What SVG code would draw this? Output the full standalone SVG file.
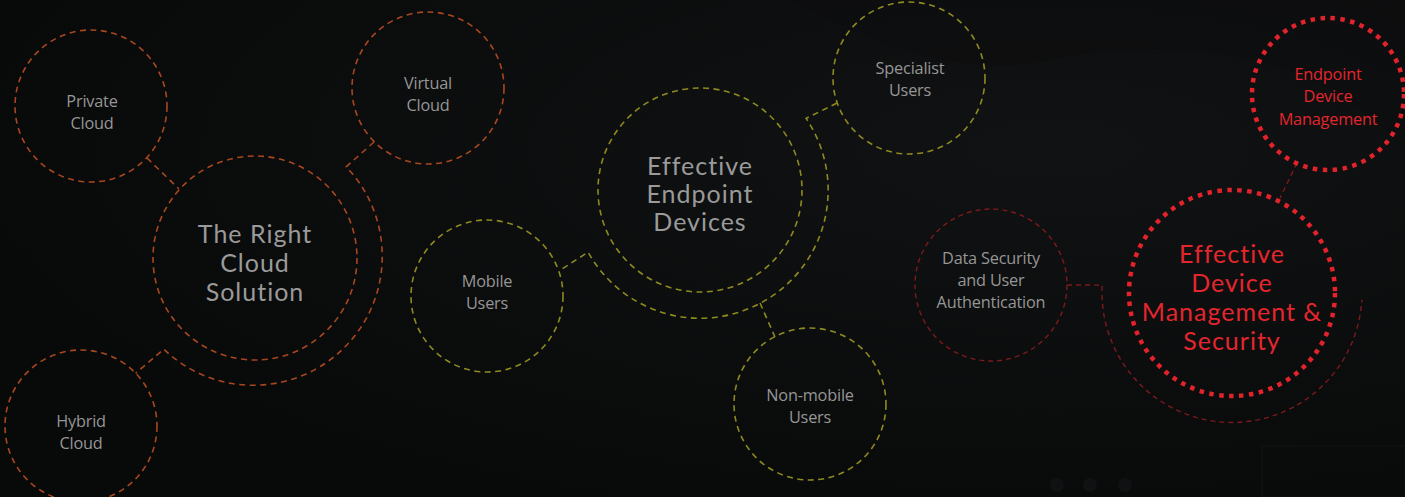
<svg xmlns="http://www.w3.org/2000/svg" width="1405" height="497" viewBox="0 0 1405 497">
<defs>
<radialGradient id="bg" cx="0.75" cy="0.3" r="0.8">
<stop offset="0" stop-color="#111213"/>
<stop offset="1" stop-color="#080909"/>
</radialGradient>
<style>
.ring{fill:none}
.or{stroke:#a8471f;stroke-width:1.6;stroke-dasharray:6 4.5}
.ol{stroke:#8e8a1f;stroke-width:1.6;stroke-dasharray:6 4.5}
.dr{stroke:#7c1a1d;stroke-width:1.4;stroke-dasharray:5 4}
.rd{stroke:#e3232b;stroke-width:4.5;stroke-dasharray:4.5 5.5}
.sm{font-family:"Open Sans","Noto Sans",sans-serif;font-size:16.3px;fill:#969696;text-anchor:middle;letter-spacing:-0.2px}
.lg{font-family:"Lato","Noto Sans",sans-serif;font-size:25px;font-weight:400;fill:#9a9a9a;text-anchor:middle;letter-spacing:1px}
.smr{fill:#e3262d}
.lgr{fill:#e3262d}
</style>
</defs>
<rect width="1405" height="497" fill="url(#bg)"/>
<path d="M790 0 L1405 0 L1405 150 C1330 60 1200 30 1050 60 C950 80 870 40 790 0 Z" fill="#0d0e0f" opacity="0.6"/>
<g id="background-figures" fill="#101112">
<circle cx="1057" cy="485" r="7"/><circle cx="1090" cy="485" r="7"/><circle cx="1125" cy="485" r="7"/>
<rect x="1262" y="446" width="143" height="51" fill="none" stroke="#111213" stroke-width="1.5"/>
</g>

<g id="connectors" class="ring">
<line class="or" x1="147" y1="158" x2="179" y2="189"/>
<path class="or" d="M374 142 L346.2 166.8 A129 129 0 0 1 163.8 349.2 L135.7 373.2"/>
<path class="ol" d="M837 103 L806.1 118.4 A128 128 0 1 1 588.1 252.1 L559 271"/>
<line class="ol" x1="760" y1="303" x2="775" y2="337"/>
<path class="dr" d="M1067 285 L1102.2 285.1 A130 130 0 1 0 1361.8 299.8"/>
<line class="dr" x1="1297" y1="163" x2="1280" y2="198"/>
</g>

<g id="private-cloud">
<circle class="ring or" cx="91" cy="106" r="76"/>
<text class="sm" x="92" y="107">Private</text>
<text class="sm" x="92" y="129">Cloud</text>
</g>
<g id="virtual-cloud">
<circle class="ring or" cx="428" cy="88" r="76"/>
<text class="sm" x="428" y="89">Virtual</text>
<text class="sm" x="428" y="111">Cloud</text>
</g>
<g id="right-cloud-solution">
<circle class="ring or" cx="255" cy="258" r="102"/>
<text class="lg" x="255" y="243">The Right</text>
<text class="lg" x="255" y="272">Cloud</text>
<text class="lg" x="255" y="301">Solution</text>
</g>
<g id="hybrid-cloud">
<circle class="ring or" cx="81" cy="426" r="76"/>
<text class="sm" x="81" y="427">Hybrid</text>
<text class="sm" x="81" y="449">Cloud</text>
</g>

<g id="effective-endpoint-devices">
<circle class="ring ol" cx="700" cy="190" r="102"/>
<text class="lg" x="700" y="175">Effective</text>
<text class="lg" x="700" y="203">Endpoint</text>
<text class="lg" x="700" y="231">Devices</text>
</g>
<g id="specialist-users">
<circle class="ring ol" cx="909" cy="78" r="76"/>
<text class="sm" x="910" y="74">Specialist</text>
<text class="sm" x="910" y="96">Users</text>
</g>
<g id="mobile-users">
<circle class="ring ol" cx="487" cy="296" r="76"/>
<text class="sm" x="487" y="287">Mobile</text>
<text class="sm" x="487" y="309">Users</text>
</g>
<g id="non-mobile-users">
<circle class="ring ol" cx="810" cy="404" r="76"/>
<text class="sm" x="810" y="401">Non-mobile</text>
<text class="sm" x="810" y="423">Users</text>
</g>

<g id="data-security">
<circle class="ring dr" cx="991" cy="285" r="76"/>
<text class="sm" x="991" y="264">Data Security</text>
<text class="sm" x="991" y="286">and User</text>
<text class="sm" x="991" y="308">Authentication</text>
</g>
<g id="endpoint-device-management">
<circle class="ring rd" cx="1328" cy="94" r="76"/>
<text class="sm smr" x="1328" y="80">Endpoint</text>
<text class="sm smr" x="1328" y="102">Device</text>
<text class="sm smr" x="1328" y="125">Management</text>
</g>
<g id="effective-device-management-security">
<circle class="ring rd" cx="1232" cy="293" r="103"/>
<text class="lg lgr" x="1232" y="263">Effective</text>
<text class="lg lgr" x="1232" y="292">Device</text>
<text class="lg lgr" x="1232" y="321">Management &amp;</text>
<text class="lg lgr" x="1232" y="350">Security</text>
</g>
</svg>
